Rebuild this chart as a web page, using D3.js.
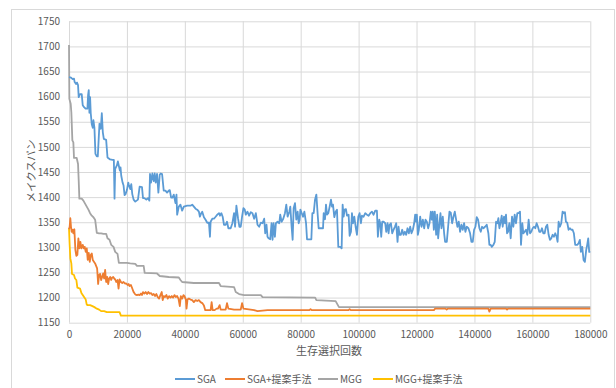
<!DOCTYPE html>
<html><head><meta charset="utf-8">
<script src="https://cdn.jsdelivr.net/npm/d3@7"></script>
<style>body{margin:0;background:#fff}svg{display:block}text{font-family:"Noto Sans CJK JP","Noto Sans",sans-serif}</style>
</head><body><svg id="c" width="616" height="388"></svg>
<script>
const seriesNames = ["SGA","SGA+提案手法","MGG","MGG+提案手法"];
const colors = ["#5B9BD5","#ED7D31","#A5A5A5","#FFC000"];
const xTicks = [0,20000,40000,60000,80000,100000,120000,140000,160000,180000];
const yTicks = [1150,1200,1250,1300,1350,1400,1450,1500,1550,1600,1650,1700,1750];
const xTitle = "生存選択回数";
const yTitle = "メイクスパン";

const sga = [[0,1639],[700,1638],[1270,1635],[1730,1636],[1960,1629],[2430,1625],[2770,1628],[3120,1623],[3350,1599],[3810,1605],[4390,1605],[4740,1583],[5200,1579],[5780,1576],[6360,1576],[6590,1603],[6820,1613],[7050,1568],[7280,1599],[7510,1567],[7860,1545],[8210,1538],[8440,1553],[8780,1538],[9130,1486],[9600,1481],[9940,1481],[10520,1546],[10980,1536],[11330,1567],[11680,1529],[12020,1516],[12830,1514],[13290,1479],[14220,1475],[15030,1474],[15490,1474],[15720,1397],[15950,1456],[16530,1463],[16880,1471],[17340,1459],[17570,1453],[17800,1459],[18030,1443],[18500,1429],[18840,1423],[19190,1404],[19530,1406],[20000,1414],[20460,1429],[20690,1424],[21150,1416],[21500,1426],[21850,1406],[22310,1395],[22890,1391],[23810,1395],[24390,1421],[25200,1420],[25550,1398],[26010,1398],[26700,1395],[27280,1398],[27740,1393],[27970,1446],[28320,1429],[28780,1447],[29250,1432],[29600,1447],[29940,1429],[30400,1446],[30860,1409],[31330,1445],[31670,1447],[32140,1446],[32710,1413],[33290,1413],[33870,1409],[34450,1413],[34800,1414],[35260,1399],[35720,1399],[36180,1405],[36760,1388],[37110,1405],[37340,1365],[37920,1381],[38490,1385],[39070,1373],[39650,1381],[40810,1383],[41960,1383],[42540,1385],[43120,1381],[43700,1377],[44270,1375],[44850,1371],[45200,1361],[45660,1368],[46010,1371],[46590,1360],[47160,1355],[47740,1349],[48320,1349],[48670,1321],[48900,1351],[49480,1357],[50050,1357],[50630,1361],[51210,1365],[51790,1368],[52140,1363],[52600,1368],[53060,1361],[53520,1345],[54100,1345],[54560,1351],[55030,1338],[55830,1338],[56410,1348],[56990,1368],[57340,1341],[57800,1383],[58380,1357],[58840,1341],[59300,1341],[59760,1361],[60230,1378],[60690,1375],[61040,1365],[61610,1371],[62190,1363],[62770,1370],[63350,1368],[63930,1357],[64510,1368],[65090,1345],[65660,1341],[66240,1349],[66820,1348],[67400,1357],[67740,1328],[68200,1345],[68550,1321],[68900,1318],[69480,1316],[69940,1348],[70290,1315],[70640,1348],[71100,1321],[71440,1348],[72020,1351],[72600,1348],[72940,1365],[73410,1351],[73980,1357],[74560,1368],[75030,1385],[75490,1361],[76070,1371],[76410,1381],[76870,1341],[77220,1315],[77560,1378],[78030,1388],[78490,1355],[78950,1371],[79300,1348],[79640,1355],[79890,1375],[80810,1361],[81270,1371],[81850,1348],[82190,1316],[83680,1316],[84030,1368],[84490,1368],[84950,1395],[85410,1405],[85870,1365],[86210,1338],[87710,1338],[87940,1368],[88400,1356],[88740,1385],[89080,1365],[89540,1368],[90000,1381],[90460,1395],[90810,1381],[91150,1385],[91610,1360],[92070,1371],[92530,1375],[92990,1301],[93680,1301],[94140,1298],[94480,1385],[94830,1361],[95170,1375],[95630,1376],[95980,1363],[96550,1365],[96900,1323],[97360,1331],[97700,1368],[98050,1348],[98510,1361],[98970,1341],[99430,1325],[99890,1361],[100340,1368],[100800,1348],[101150,1363],[101720,1361],[102300,1368],[102870,1365],[103450,1363],[104020,1368],[104600,1371],[105170,1365],[105750,1373],[106320,1373],[106660,1321],[107130,1355],[107470,1348],[107810,1321],[108160,1351],[108620,1351],[109190,1348],[109540,1331],[110000,1348],[110340,1328],[110690,1345],[111150,1348],[111610,1328],[112060,1335],[112520,1341],[112980,1348],[113440,1311],[113790,1341],[114130,1325],[114590,1325],[115050,1335],[115510,1325],[115970,1331],[116430,1325],[116890,1338],[117350,1328],[117810,1341],[118270,1328],[118730,1335],[119190,1348],[119530,1365],[119880,1351],[120110,1365],[120450,1325],[120800,1335],[121260,1361],[121720,1341],[122180,1355],[122640,1338],[123100,1355],[123560,1351],[124020,1338],[124480,1348],[124940,1371],[125280,1355],[125620,1371],[125970,1335],[126310,1371],[126770,1325],[127120,1365],[127460,1318],[127920,1348],[128270,1368],[128610,1338],[129070,1361],[129530,1328],[129870,1311],[130450,1311],[130910,1341],[131370,1371],[131830,1369],[132290,1348],[132750,1361],[133210,1371],[133670,1355],[134120,1341],[134580,1351],[135040,1331],[135500,1345],[135960,1335],[136420,1348],[136880,1331],[137340,1341],[137920,1338],[138490,1328],[138950,1311],[139410,1311],[139870,1335],[140330,1341],[140790,1360],[141250,1355],[141710,1338],[142170,1331],[142630,1341],[143090,1338],[143660,1341],[144240,1345],[144810,1328],[145160,1305],[145620,1305],[145960,1301],[146540,1305],[147000,1311],[147460,1351],[147920,1348],[148260,1358],[148610,1338],[149060,1351],[149410,1363],[149750,1341],[150210,1361],[150560,1348],[150900,1365],[151250,1328],[151590,1331],[152050,1348],[152510,1318],[152970,1361],[153430,1341],[153890,1365],[154350,1348],[154810,1368],[155270,1368],[155730,1371],[156070,1305],[156530,1348],[156880,1328],[157340,1331],[157800,1335],[158250,1325],[158710,1355],[159170,1328],[159630,1331],[160090,1338],[160550,1341],[161010,1338],[161470,1348],[161930,1341],[162390,1331],[162850,1331],[163310,1338],[163770,1328],[164230,1328],[164690,1341],[165150,1345],[165610,1325],[166060,1315],[166520,1318],[166980,1325],[167440,1321],[167900,1328],[168360,1321],[168710,1311],[169050,1351],[169510,1341],[169970,1348],[170430,1371],[170890,1368],[171240,1370],[171580,1351],[172040,1349],[172500,1335],[172960,1338],[173420,1335],[173880,1335],[174330,1328],[174790,1305],[175480,1305],[175940,1308],[176400,1315],[176750,1291],[177210,1301],[177670,1275],[178130,1271],[178590,1295],[178930,1305],[179280,1318],[179620,1291],[180000,1291]];

const sgaProp = [[0,1336],[230,1341],[460,1358],[690,1341],[920,1331],[1270,1335],[1500,1328],[1850,1336],[2200,1295],[2540,1283],[2890,1285],[3240,1318],[3580,1298],[3930,1311],[4280,1298],[4740,1305],[5090,1298],[5430,1301],[5780,1291],[6130,1298],[6470,1275],[6820,1289],[7170,1271],[7510,1285],[7860,1288],[8210,1275],[8670,1271],[9020,1268],[9360,1263],[9710,1258],[10060,1227],[10400,1245],[10750,1247],[11100,1235],[11450,1241],[11790,1248],[12140,1238],[12480,1255],[12830,1231],[13180,1241],[13530,1227],[13870,1238],[14220,1241],[14570,1235],[14910,1240],[15260,1241],[15610,1238],[15950,1236],[16300,1231],[16760,1235],[17110,1218],[17460,1236],[17920,1231],[18380,1229],[18840,1231],[19300,1228],[19770,1228],[20230,1225],[20580,1227],[20920,1223],[21390,1225],[21850,1218],[22310,1211],[22660,1208],[23000,1206],[23470,1205],[23930,1206],[24390,1205],[24850,1208],[25200,1205],[25550,1211],[26010,1208],[26470,1211],[26940,1207],[27400,1211],[27860,1208],[28320,1209],[28780,1205],[29250,1207],[29710,1203],[30170,1207],[30630,1201],[31100,1198],[31560,1205],[32020,1211],[32370,1195],[32710,1203],[33180,1201],[33640,1205],[34100,1198],[34560,1203],[35030,1200],[35490,1203],[35950,1200],[36410,1205],[36880,1201],[37340,1203],[37800,1198],[38260,1183],[38610,1203],[39070,1198],[39530,1205],[39880,1203],[40350,1196],[40580,1178],[40920,1196],[41380,1198],[41960,1196],[42540,1195],[43120,1191],[43700,1195],[44270,1193],[44850,1195],[45430,1191],[46010,1189],[46590,1184],[47050,1175],[48900,1175],[49250,1191],[49590,1175],[50290,1175],[50980,1178],[51440,1178],[52020,1185],[52370,1176],[54100,1176],[54560,1189],[55030,1178],[56990,1176],[59300,1176],[59760,1189],[60230,1178],[63930,1175],[65090,1173],[68550,1175],[83000,1175],[83400,1177],[83800,1175],[96500,1175],[96900,1177],[97300,1175],[126000,1175],[126430,1178],[130000,1178],[130400,1176],[130800,1178],[144800,1178],[145160,1172],[145600,1178],[150900,1178],[151250,1176],[151600,1178],[180000,1178]];

const mgg = [[0,1703],[120,1596],[580,1586],[810,1569],[1160,1513],[1500,1509],[1730,1478],[2660,1478],[3120,1466],[3350,1433],[3580,1397],[4390,1397],[4970,1393],[5550,1387],[6130,1381],[6710,1375],[7280,1368],[7860,1363],[8440,1360],[9020,1355],[9600,1329],[10400,1328],[11100,1328],[11910,1327],[12830,1327],[13290,1318],[13990,1315],[14570,1305],[15380,1301],[15950,1291],[16760,1287],[17220,1269],[20000,1269],[21150,1268],[22890,1267],[23470,1263],[25780,1263],[26130,1249],[30400,1248],[31330,1243],[34450,1241],[37920,1240],[38490,1235],[39070,1231],[43120,1229],[51790,1229],[52370,1223],[56990,1221],[57570,1211],[58730,1207],[60460,1205],[66240,1205],[66820,1201],[85000,1200],[85410,1195],[92070,1193],[93220,1181],[180000,1181]];

const mggProp = [[0,1338],[230,1305],[460,1278],[810,1268],[1040,1247],[1730,1245],[2080,1238],[2540,1235],[2890,1220],[3810,1218],[4280,1209],[4740,1205],[5200,1201],[5780,1196],[6130,1186],[6470,1185],[7280,1185],[8090,1183],[8780,1181],[9600,1178],[10400,1176],[11100,1173],[12140,1173],[13060,1171],[17460,1171],[17920,1164],[180000,1164]];

const allSeries = [sga, sgaProp, mgg, mggProp];

const svg = d3.select("#c");
const W = 616, H = 388;
const m = {l:69, t:21.3, r:616-590.3, b:388-322.7};
const iw = W - m.l - m.r, ih = H - m.t - m.b;

svg.append("rect").attr("x",11.5).attr("y",9.5).attr("width",603).attr("height",400)
  .attr("fill","#fff").attr("stroke","#D9D9D9").attr("stroke-width",1);

const x = d3.scaleLinear().domain([0,180000]).range([0,iw]);
const y = d3.scaleLinear().domain([1150,1750]).range([ih,0]);

const g = svg.append("g").attr("transform",`translate(${m.l},${m.t})`);

const gy = g.append("g").call(d3.axisLeft(y).tickValues(yTicks).tickSize(-iw).tickPadding(9).tickFormat(d3.format("d")));
gy.select(".domain").remove();
gy.selectAll(".tick line").attr("stroke","#D9D9D9");
gy.selectAll(".tick text").attr("fill","#595959").style("font-size","10px");

const gx = g.append("g").attr("transform",`translate(0,${ih})`)
  .call(d3.axisBottom(x).tickValues(xTicks).tickSize(-ih).tickPadding(8).tickFormat(d3.format("d")));
gx.select(".domain").remove();
gx.selectAll(".tick line").attr("stroke","#D9D9D9");
gx.selectAll(".tick text").attr("fill","#595959").style("font-size","10px");

const line = d3.line().x(d=>x(d[0])).y(d=>y(d[1]));
// draw order: MGG+ (bottom), MGG, SGA+, SGA on top
[3,2,1,0].forEach(i=>{
  g.append("path").datum(allSeries[i]).attr("d",line)
    .attr("fill","none").attr("stroke",colors[i]).attr("stroke-width",1.8)
    .attr("stroke-linejoin","round");
});

svg.append("text").attr("x",329).attr("y",355).attr("text-anchor","middle")
  .attr("fill","#595959").style("font-size","11px").text(xTitle);
svg.append("text").attr("transform","translate(35,171) rotate(-90)").attr("text-anchor","middle")
  .attr("fill","#595959").style("font-size","10.5px").text(yTitle);

const legX = [175,225,318,373];
const lg = svg.append("g");
seriesNames.forEach((n,i)=>{
  lg.append("line").attr("x1",legX[i]).attr("x2",legX[i]+20).attr("y1",379).attr("y2",379)
    .attr("stroke",colors[i]).attr("stroke-width",2);
  lg.append("text").attr("x",legX[i]+22).attr("y",383).attr("fill","#595959")
    .style("font-size","10px").text(n);
});
</script></body></html>
